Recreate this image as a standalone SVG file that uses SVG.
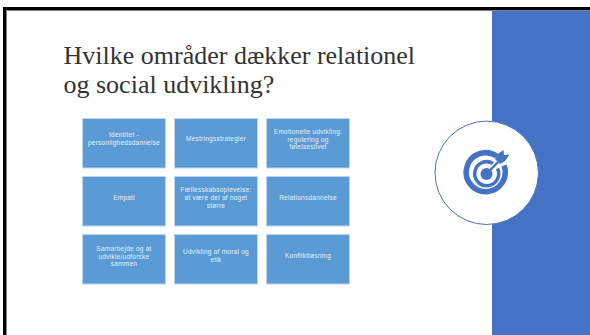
<svg xmlns="http://www.w3.org/2000/svg" width="590" height="335" viewBox="0 0 590 335">
<style>
.box{fill:#5b9bd5;stroke:#bcd4ec;stroke-width:1}
.t{font-family:"Liberation Sans",Arial,sans-serif;font-size:6.5px;letter-spacing:.25px;fill:#e6f0f9;text-anchor:middle}
.title{font-family:"Liberation Serif",serif;font-size:26px;fill:#333}
.ring{fill:none;stroke:#4472c4}
</style>
<rect width="590" height="335" fill="#fff"/>
<path d="M4.500 335V8.500H590" fill="none" stroke="#000" stroke-width="3"/>
<path d="M6.500 335V10.500H590" fill="none" stroke="#808080" stroke-width="1"/>
<rect id="panel" x="492" y="11" width="98" height="324" fill="#4472c4"/>
<g id="heading">
<text class="title" x="63.500" y="63.500">Hvilke områder dækker relationel</text>
<text class="title" x="63.500" y="92.500">og social udvikling?</text>
</g>
<g id="n1"><rect class="box" x="82.500" y="118.500" width="83" height="49.500"/><text class="t" x="124" y="137">Identitet -</text><text class="t" x="124" y="145">personlighedsdannelse</text></g>
<g id="n2"><rect class="box" x="174.500" y="118.500" width="83" height="49.500"/><text class="t" x="216" y="141">Mestringsstrategier</text></g>
<g id="n3"><rect class="box" x="266.500" y="118.500" width="83" height="49.500"/><text class="t" x="308" y="134">Emotionelle udvikling:</text><text class="t" x="308" y="141.500">regulering og</text><text class="t" x="308" y="149">følelseslivet</text></g>
<g id="n4"><rect class="box" x="82.500" y="176.500" width="83" height="49.500"/><text class="t" x="124" y="199.500">Empati</text></g>
<g id="n5"><rect class="box" x="174.500" y="176.500" width="83" height="49.500"/><text class="t" x="216" y="192">Fællesskabsoplevelse:</text><text class="t" x="216" y="199.800">at være del af noget</text><text class="t" x="216" y="207.500">større</text></g>
<g id="n6"><rect class="box" x="266.500" y="176.500" width="83" height="49.500"/><text class="t" x="308" y="199.500">Relationsdannelse</text></g>
<g id="n7"><rect class="box" x="82.500" y="234.500" width="83" height="49.500"/><text class="t" x="124" y="251">Samarbejde og at</text><text class="t" x="124" y="258.500">udvikle/udforske</text><text class="t" x="124" y="266">sammen</text></g>
<g id="n8"><rect class="box" x="174.500" y="234.500" width="83" height="49.500"/><text class="t" x="216" y="254">Udvikling af moral og</text><text class="t" x="216" y="262">etik</text></g>
<g id="n9"><rect class="box" x="266.500" y="234.500" width="83" height="49.500"/><text class="t" x="308" y="258">Konfliktløsning</text></g>
<g id="badge">
<circle cx="486.700" cy="172.800" r="51.700" fill="#fff" stroke="#4472c4" stroke-width="1"/>
<path d="M496.500 156A19.500 19.500 0 1 0 504 165.500" class="ring" stroke-width="5.500"/>
<path d="M493 163.500A12 12 0 1 0 497.500 168.500" class="ring" stroke-width="3.500"/>
<circle cx="486.500" cy="174" r="6" fill="#4472c4"/>
<path d="M486.500 174L498 162" stroke="#4472c4" stroke-width="2.500"/>
<path d="M495 159L497 154.500L503.500 150L504 155L509.500 154.500L505 161L500 164Z" fill="#4472c4"/>
</g>
</svg>
